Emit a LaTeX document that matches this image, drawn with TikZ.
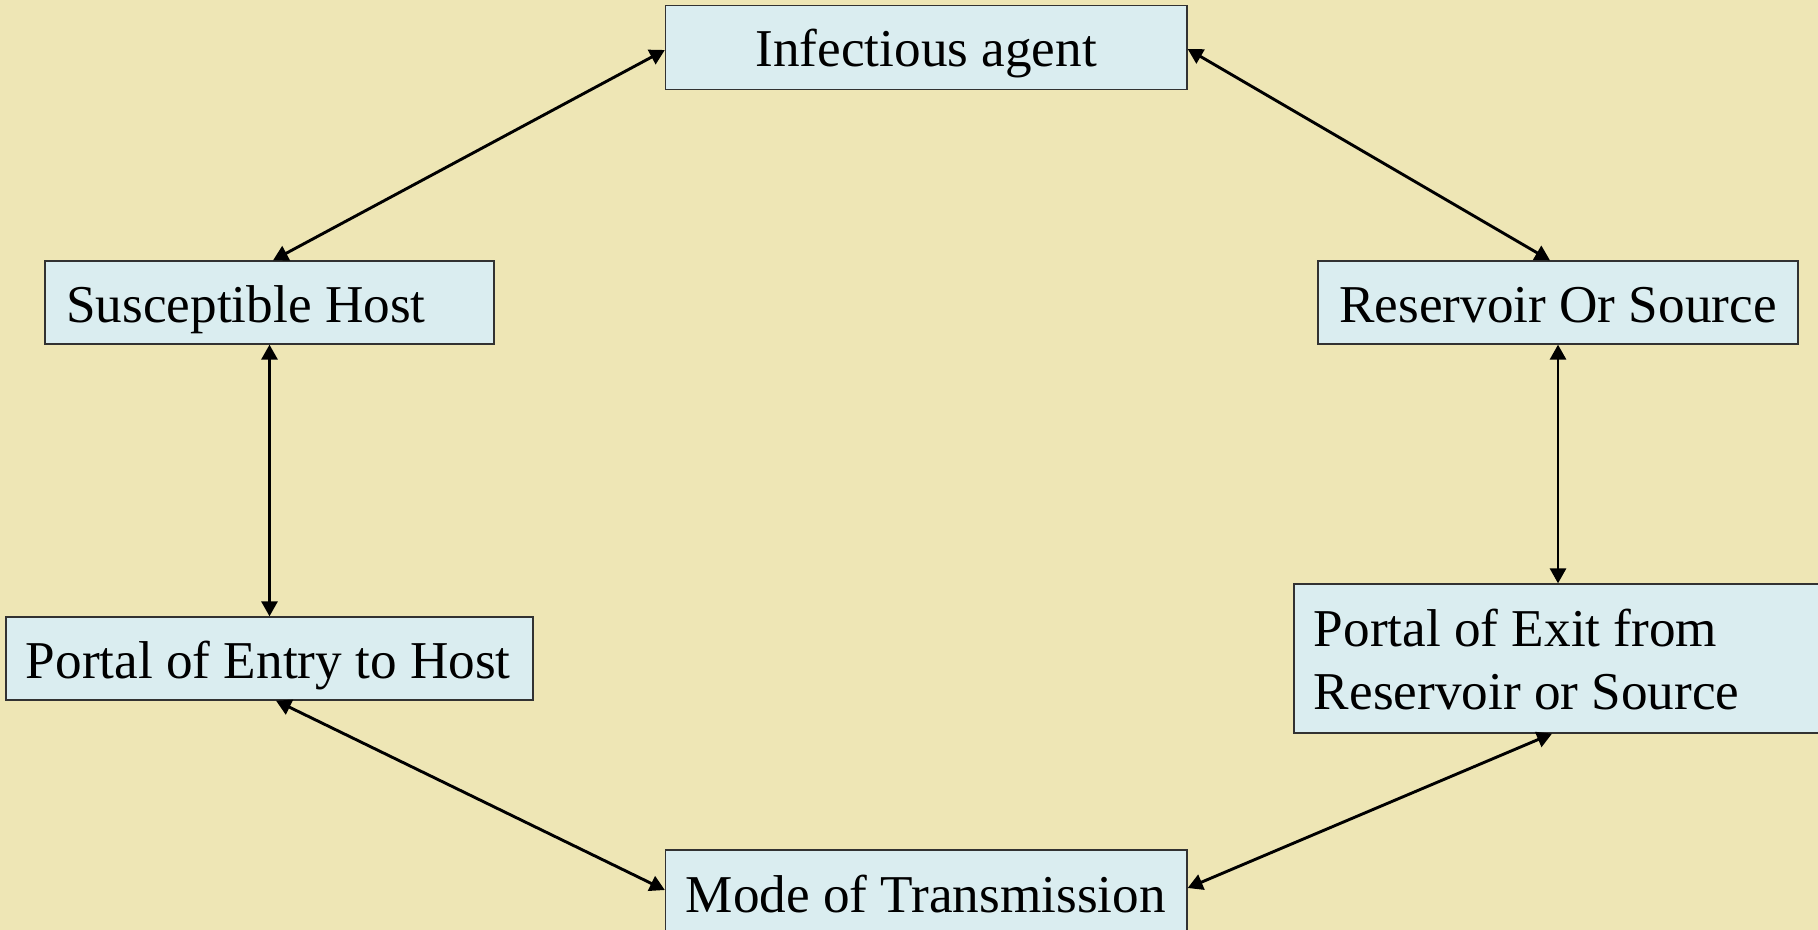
\documentclass[tikz,border=0pt]{standalone}
\usepackage{fontspec}
\setmainfont{Liberation Serif}
\usetikzlibrary{arrows.meta,calc}
\definecolor{bgtan}{RGB}{238,230,181}
\definecolor{boxblue}{RGB}{218,237,240}
\definecolor{boxline}{RGB}{50,50,50}
\begin{document}
\begin{tikzpicture}[x=0.5pt,y=-0.5pt,
  box/.style={draw=boxline,line width=0.65pt,fill=boxblue,rectangle,inner sep=0pt},
  lbl/.style={inner sep=0pt,font=\fontsize{26.6}{28}\selectfont,text=black},
  link/.style={line width=1.45pt,{Triangle[length=7.5pt,width=8pt]}-{Triangle[length=7.5pt,width=8pt]}}]
\fill[bgtan] (0,0) rectangle (1818,930);
\useasboundingbox (0,0) rectangle (1818,930);
% boxes
\node[box,minimum width=260.75pt,minimum height=41.75pt] (ia) at (926.25,47.5) {};
\node[box,minimum width=224.5pt,minimum height=41.5pt] (sh) at (269.5,302.5) {};
\node[box,minimum width=240pt,minimum height=41.5pt] (rs) at (1558,302.5) {};
\node[box,minimum width=263.5pt,minimum height=41.5pt] (pen) at (269.5,658.5) {};
\node[box,minimum width=264pt,minimum height=74.5pt] (pex) at (1558,658.5) {};
\node[box,minimum width=260.75pt,minimum height=44pt] (mt) at (926.25,894) {};
% texts
\node[lbl,anchor=base] (tia) at (926.25,67) {Infectious agent};
\node[lbl,anchor=base west] (tsh) at (66,322) {Susceptible Host};
\node[lbl,anchor=base west] (trs) at (1339,322) {Reservoir Or Source};
\node[lbl,anchor=base west] (tpen) at (25.5,678) {Portal of Entry to Host};
\node[lbl,anchor=base west] (tpex1) at (1313.5,646) {Portal of Exit from};
\node[lbl,anchor=base west] (tpex2) at (1313.5,709.5) {Reservoir or Source};
\node[lbl,anchor=base west] (tmt) at (685.5,912) {Mode of Transmission};
% connectors
\draw[link] ($(ia.west)+(0,2.5)$) -- ($(sh.north)+(3.5,0)$);
\draw[link] ($(ia.east)+(0,1.5)$) -- ($(rs.north)+(-8,0)$);
\draw[link] (sh.south) -- (pen.north);
\draw[link] (rs.south) -- (pex.north);
\draw[link] ($(pen.south)+(6.5,0)$) -- ($(mt.west)+(0,-4)$);
\draw[link] ($(mt.east)+(0,-6)$) -- ($(pex.south)+(-6,0)$);
\end{tikzpicture}
\end{document}
